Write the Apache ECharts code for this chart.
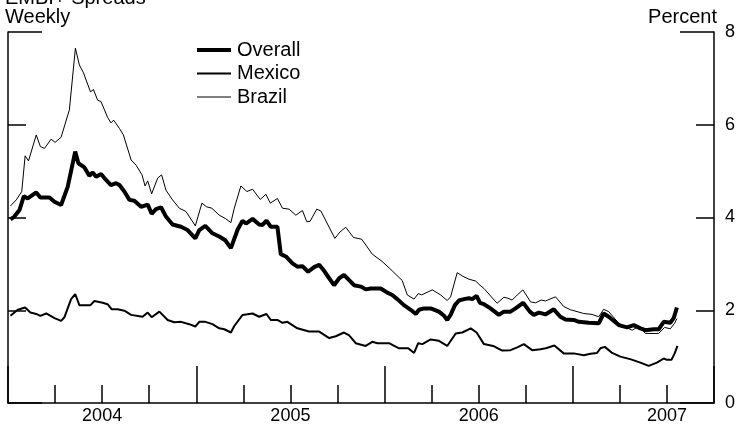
<!DOCTYPE html>
<html><head><meta charset="utf-8">
<script src="https://cdn.jsdelivr.net/npm/echarts@6/dist/echarts.min.js"></script>
<style>html,body{margin:0;padding:0;background:#fff}#c{width:738px;height:427px}</style>
</head><body><div id="c"></div>
<script>
// Dates in decimal years, values in percent
const overallDates = [2004.013,2004.034,2004.061,2004.084,2004.105,2004.150,2004.172,2004.220,2004.247,2004.282,2004.317,2004.357,2004.374,2004.406,2004.432,2004.450,2004.468,2004.494,2004.512,2004.547,2004.574,2004.592,2004.618,2004.645,2004.671,2004.707,2004.742,2004.763,2004.786,2004.813,2004.839,2004.874,2004.919,2004.954,2004.995,2005.016,2005.048,2005.086,2005.122,2005.154,2005.184,2005.220,2005.246,2005.264,2005.299,2005.334,2005.352,2005.373,2005.396,2005.431,2005.449,2005.476,2005.511,2005.537,2005.564,2005.594,2005.626,2005.653,2005.679,2005.706,2005.732,2005.759,2005.785,2005.812,2005.838,2005.874,2005.900,2005.927,2005.980,2006.015,2006.041,2006.068,2006.103,2006.139,2006.166,2006.183,2006.210,2006.245,2006.289,2006.316,2006.333,2006.351,2006.374,2006.395,2006.422,2006.448,2006.466,2006.489,2006.507,2006.528,2006.563,2006.607,2006.634,2006.669,2006.696,2006.736,2006.772,2006.793,2006.820,2006.855,2006.899,2006.934,2006.961,2007.005,2007.032,2007.085,2007.138,2007.164,2007.191,2007.244,2007.288,2007.324,2007.359,2007.386,2007.430,2007.456,2007.483,2007.518,2007.536,2007.553];
const overallValues = [3.96,4.02,4.16,4.46,4.41,4.54,4.43,4.43,4.34,4.27,4.66,5.42,5.17,5.08,4.90,4.97,4.88,4.94,4.85,4.70,4.74,4.70,4.56,4.38,4.36,4.23,4.28,4.08,4.18,4.22,4.02,3.85,3.80,3.73,3.55,3.73,3.82,3.66,3.59,3.51,3.34,3.74,3.93,3.87,3.97,3.85,3.84,3.93,3.80,3.80,3.21,3.16,3.01,2.94,2.95,2.83,2.93,2.98,2.85,2.69,2.54,2.69,2.76,2.65,2.54,2.51,2.45,2.47,2.47,2.38,2.33,2.24,2.11,2.01,1.92,2.01,2.04,2.04,1.97,1.88,1.79,1.90,2.11,2.21,2.24,2.26,2.24,2.31,2.16,2.13,2.04,1.90,1.97,1.97,2.04,2.16,1.97,1.90,1.95,1.91,2.02,1.86,1.80,1.79,1.75,1.73,1.72,1.93,1.86,1.68,1.63,1.68,1.61,1.57,1.59,1.59,1.75,1.73,1.83,2.06];

const mexicoDates = [2004.013,2004.052,2004.091,2004.119,2004.150,2004.172,2004.203,2004.247,2004.282,2004.300,2004.335,2004.357,2004.379,2004.438,2004.459,2004.503,2004.529,2004.551,2004.582,2004.618,2004.654,2004.715,2004.742,2004.763,2004.804,2004.848,2004.883,2004.919,2004.963,2004.995,2005.016,2005.048,2005.086,2005.122,2005.149,2005.184,2005.202,2005.246,2005.299,2005.334,2005.373,2005.396,2005.431,2005.458,2005.484,2005.537,2005.599,2005.653,2005.706,2005.741,2005.785,2005.812,2005.847,2005.900,2005.935,2005.962,2006.024,2006.077,2006.126,2006.157,2006.179,2006.201,2006.245,2006.289,2006.333,2006.378,2006.413,2006.458,2006.489,2006.528,2006.577,2006.625,2006.669,2006.705,2006.740,2006.784,2006.828,2006.857,2006.902,2006.952,2007.005,2007.058,2007.094,2007.129,2007.147,2007.170,2007.209,2007.253,2007.309,2007.359,2007.403,2007.447,2007.483,2007.500,2007.524,2007.541,2007.556];
const mexicoValues = [1.88,2.01,2.06,1.95,1.92,1.88,1.93,1.83,1.77,1.85,2.24,2.35,2.11,2.11,2.20,2.16,2.13,2.02,2.02,1.99,1.90,1.86,1.95,1.85,1.97,1.79,1.74,1.75,1.70,1.65,1.75,1.75,1.70,1.61,1.59,1.52,1.66,1.90,1.93,1.86,1.92,1.79,1.79,1.73,1.75,1.61,1.54,1.54,1.40,1.44,1.52,1.46,1.29,1.23,1.32,1.29,1.29,1.18,1.18,1.08,1.29,1.27,1.37,1.34,1.23,1.50,1.52,1.61,1.52,1.27,1.23,1.13,1.14,1.20,1.27,1.14,1.16,1.18,1.24,1.07,1.07,1.03,1.06,1.08,1.18,1.21,1.08,1.00,0.94,0.87,0.80,0.87,0.96,0.93,0.93,1.07,1.23];

const brazilDates = [2004.013,2004.044,2004.073,2004.091,2004.109,2004.150,2004.172,2004.194,2004.229,2004.250,2004.282,2004.326,2004.358,2004.379,2004.401,2004.438,2004.454,2004.476,2004.494,2004.529,2004.547,2004.561,2004.592,2004.613,2004.654,2004.680,2004.712,2004.728,2004.742,2004.763,2004.795,2004.816,2004.839,2004.874,2004.910,2004.945,2004.995,2005.030,2005.055,2005.083,2005.122,2005.154,2005.184,2005.202,2005.237,2005.269,2005.299,2005.340,2005.370,2005.393,2005.431,2005.458,2005.493,2005.529,2005.564,2005.587,2005.605,2005.640,2005.662,2005.736,2005.764,2005.794,2005.835,2005.879,2005.935,2005.988,2006.041,2006.094,2006.121,2006.157,2006.179,2006.197,2006.254,2006.298,2006.333,2006.351,2006.386,2006.413,2006.448,2006.484,2006.507,2006.528,2006.554,2006.598,2006.634,2006.655,2006.678,2006.705,2006.735,2006.776,2006.802,2006.832,2006.855,2006.908,2006.952,2006.988,2007.058,2007.102,2007.138,2007.164,2007.191,2007.244,2007.315,2007.350,2007.386,2007.456,2007.488,2007.518,2007.541,2007.553];
const brazilValues = [4.25,4.38,4.56,5.33,5.22,5.78,5.53,5.49,5.69,5.62,5.73,6.32,7.65,7.29,7.12,6.71,6.76,6.53,6.50,6.16,6.04,6.10,5.92,5.78,5.24,5.13,4.92,4.68,4.79,4.51,4.85,4.92,4.59,4.38,4.20,4.13,3.82,4.31,4.23,4.20,4.05,3.98,3.89,4.20,4.68,4.56,4.61,4.39,4.50,4.31,4.41,4.20,4.18,4.05,4.15,3.91,3.92,4.18,4.14,3.55,3.69,3.79,3.57,3.53,3.21,3.05,2.85,2.64,2.33,2.24,2.36,2.33,2.44,2.33,2.21,2.29,2.81,2.74,2.67,2.63,2.54,2.47,2.35,2.15,2.28,2.26,2.22,2.33,2.44,2.18,2.16,2.22,2.20,2.29,2.08,2.01,1.93,1.91,1.86,2.02,1.97,1.72,1.57,1.65,1.50,1.50,1.63,1.60,1.72,1.82];

const seriesNames = ['Overall', 'Mexico', 'Brazil'];
const yearLabels = ['2004', '2005', '2006', '2007'];
const yTicks = [0, 2, 4, 6, 8];

const FONT = '"Liberation Sans", Arial, Helvetica, sans-serif';
const BLACK = '#000';
const lineWidths = [4, 2, 1];
function pairs(t, v) { return t.map((x, i) => [x, v[i]]); }

const chart = echarts.init(document.getElementById('c'), null, { renderer: 'canvas' });

const tickLine = { color: BLACK, width: 1.5 };
const option = {
  animation: false,
  backgroundColor: '#fff',
  grid: { left: 8, right: 23, top: 32, bottom: 24, containLabel: false },
  xAxis: [
    {
      type: 'value', min: 2004, max: 2007.75, interval: 0.25, position: 'bottom',
      axisLine: { show: true, lineStyle: { color: BLACK, width: 1.5 } },
      axisTick: { show: true, inside: true, length: 18, lineStyle: tickLine },
      axisLabel: {
        show: true, margin: 4, color: BLACK, fontSize: 18, fontFamily: FONT,
        showMinLabel: true, showMaxLabel: true, hideOverlap: false,
        formatter: function (v) {
          const y = Math.floor(v + 1e-6);
          return Math.abs(v - y - 0.5) < 1e-4 ? (yearLabels[y - 2004] || '') : '';
        }
      },
      splitLine: { show: false }
    },
    {
      type: 'value', min: 2004, max: 2007.75, interval: 1, position: 'bottom',
      axisLine: { show: false },
      axisTick: { show: true, inside: true, length: 37, lineStyle: tickLine },
      axisLabel: { show: false },
      splitLine: { show: false }
    }
  ],
  yAxis: [
    {
      type: 'value', min: 0, max: 8, interval: 2, position: 'right', offset: 0,
      axisLine: { show: true, lineStyle: { color: BLACK, width: 1.5 } },
      axisTick: { show: true, inside: true, length: 18, lineStyle: tickLine },
      axisLabel: { show: true, margin: 11, color: BLACK, fontSize: 18, fontFamily: FONT,
        formatter: v => yTicks.includes(v) ? String(v) : '' },
      splitLine: { show: false }
    },
    {
      type: 'value', min: 0, max: 8, interval: 2, position: 'left', offset: 0,
      axisLine: { show: true, lineStyle: { color: BLACK, width: 1.5 } },
      axisTick: { show: true, inside: true, length: 18, lineStyle: tickLine },
      axisLabel: { show: false },
      splitLine: { show: false }
    },
    {
      type: 'value', min: 0, max: 8, interval: 8, position: 'right', offset: 0,
      axisLine: { show: false },
      axisTick: { show: true, inside: true, length: 34, lineStyle: tickLine },
      axisLabel: { show: false },
      splitLine: { show: false }
    },
    {
      type: 'value', min: 0, max: 8, interval: 8, position: 'left', offset: 0,
      axisLine: { show: false },
      axisTick: { show: true, inside: true, length: 34, lineStyle: tickLine },
      axisLabel: { show: false },
      splitLine: { show: false }
    }
  ],
  legend: {
    orient: 'vertical', left: 190, top: 35, itemWidth: 34, itemHeight: 14, itemGap: 3.5,
    textStyle: { fontSize: 20, color: BLACK, fontFamily: FONT, padding: [0, 0, 0, 1] },
    itemStyle: { color: 'rgba(0,0,0,0)', borderColor: 'rgba(0,0,0,0)', borderWidth: 0, opacity: 0 },
    data: seriesNames.map((n, i) => ({ name: n, lineStyle: { color: BLACK, width: lineWidths[i] },
      itemStyle: { color: 'rgba(0,0,0,0)', borderColor: 'rgba(0,0,0,0)', borderWidth: 0, opacity: 0 } })),
    selectedMode: false
  },
  graphic: [
    { type: 'text', left: 5, top: -12, style: { text: 'EMBI+ Spreads', font: '20px ' + FONT, fill: BLACK } },
    { type: 'text', left: 5, top: 7, style: { text: 'Weekly', font: '20px ' + FONT, fill: BLACK } },
    { type: 'text', right: 21, top: 7, style: { text: 'Percent', font: '20px ' + FONT, fill: BLACK } }
  ],
  series: seriesNames.map((n, i) => ({
    type: 'line', name: n, xAxisIndex: 0, yAxisIndex: 0,
    data: [pairs(overallDates, overallValues), pairs(mexicoDates, mexicoValues), pairs(brazilDates, brazilValues)][i],
    symbol: 'none', lineStyle: { color: BLACK, width: lineWidths[i] }, itemStyle: { color: BLACK }, z: 4 - i
  }))
};
chart.setOption(option);
</script>
</body></html>
